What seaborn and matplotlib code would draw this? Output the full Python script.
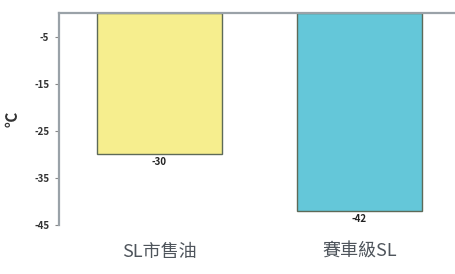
import matplotlib
matplotlib.use("Agg")
import matplotlib.pyplot as plt
import seaborn as sns
import pandas as pd

# data
categories = ["SL市售油", "賽車級SL"]
values = [-30, -42]
bar_colors = ["#F6EE8E", "#64C7D9"]
y_ticks = [-5, -15, -25, -35, -45]

sns.set_style("white")
plt.rcParams['font.family'] = ['Noto Sans CJK TC', 'DejaVu Sans']

df = pd.DataFrame({"cat": categories, "val": values})

fig = plt.figure(figsize=(4.55, 2.74), dpi=100)
ax = fig.add_axes([59 / 455, 1 - 225 / 274, 1.01 - 59 / 455, (225 - 13) / 274])

sns.barplot(data=df, x="cat", y="val", hue="cat", palette=bar_colors,
            saturation=1, width=0.625, edgecolor="#5d6a58", linewidth=1.0,
            legend=False, ax=ax)

ax.set_ylim(-45, 0)
ax.set_xlim(-0.5, 1.5)
ax.set_yticks(y_ticks)
ax.set_yticklabels([str(t) for t in y_ticks], fontsize=7, fontweight="bold", color="#333333")
ax.tick_params(axis="y", length=3, width=0.8, color="#888888", pad=4, left=True)
ax.tick_params(axis="x", length=0, pad=13, labelsize=13, labelcolor="#4f555c")
for lbl in ax.get_xticklabels():
    lbl.set_fontweight("medium")

for side in ["bottom", "right"]:
    ax.spines[side].set_visible(False)
for side in ["left", "top"]:
    ax.spines[side].set_visible(True)
    ax.spines[side].set_color("#9aa2a8")
    ax.spines[side].set_linewidth(1.6)

for i, v in enumerate(values):
    ax.text(i, v - 1.7, str(v), ha="center", va="center",
            fontsize=7, fontweight="bold", color="#222222")

ax.set_xlabel("")
ax.set_ylabel("℃", fontsize=11, fontweight="bold", color="#333333", labelpad=10)

fig.savefig("out.png", dpi=100)
